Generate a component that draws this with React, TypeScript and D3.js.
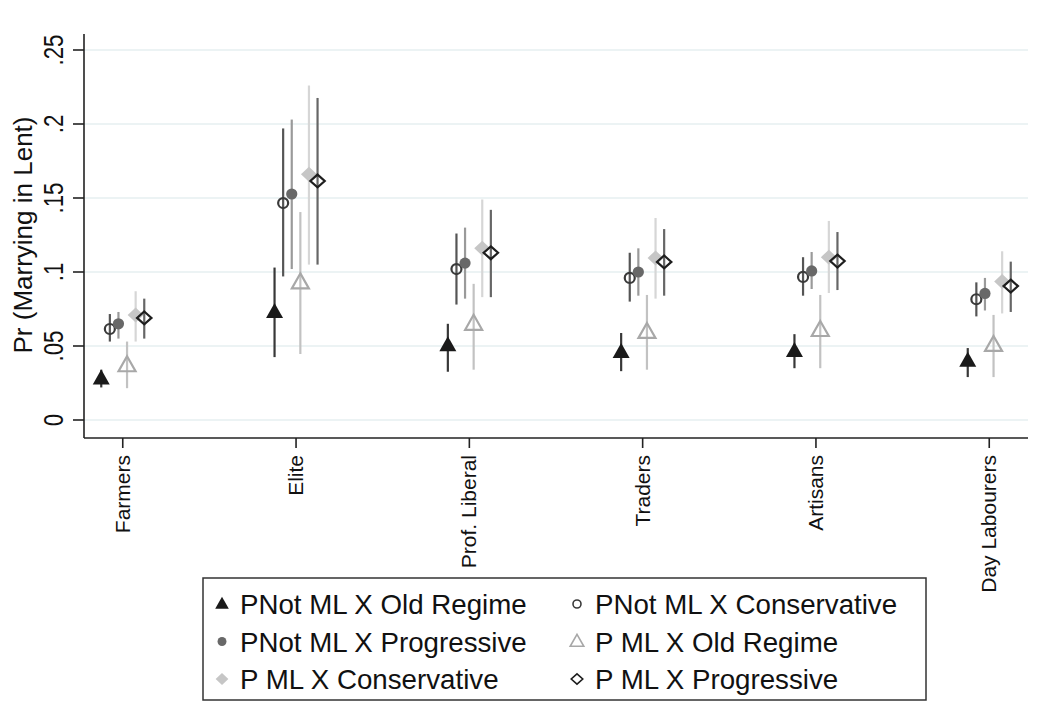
import React from "react";
import * as d3 from "d3";

const categories = ["Farmers", "Elite", "Prof. Liberal", "Traders", "Artisans", "Day Labourers"];
const seriesNames = [
  "PNot ML X Old Regime",
  "PNot ML X Conservative",
  "PNot ML X Progressive",
  "P ML X Old Regime",
  "P ML X Conservative",
  "P ML X Progressive",
];
const yTicks = [0, 0.05, 0.1, 0.15, 0.2, 0.25];
const yTickLabels = ["0", ".05", ".1", ".15", ".2", ".25"];

// point estimates per series (order of categories)
const estOldRegime = [0.028, 0.073, 0.0505, 0.046, 0.0466, 0.040];
const estConservative = [0.0615, 0.1466, 0.102, 0.096, 0.0967, 0.0816];
const estProgressive = [0.065, 0.1527, 0.106, 0.100, 0.1007, 0.0855];
const estMLOldRegime = [0.037, 0.093, 0.065, 0.0595, 0.0608, 0.0507];
const estMLConservative = [0.071, 0.166, 0.116, 0.1095, 0.110, 0.0935];
const estMLProgressive = [0.069, 0.1615, 0.113, 0.1068, 0.1074, 0.0905];

// lower / upper confidence bounds
const loOldRegime = [0.022, 0.0425, 0.0326, 0.033, 0.035, 0.029];
const hiOldRegime = [0.034, 0.103, 0.065, 0.0588, 0.058, 0.0486];
const loConservative = [0.053, 0.097, 0.078, 0.080, 0.084, 0.070];
const hiConservative = [0.0716, 0.197, 0.126, 0.113, 0.110, 0.093];
const loProgressive = [0.055, 0.102, 0.082, 0.084, 0.0885, 0.074];
const hiProgressive = [0.073, 0.203, 0.130, 0.116, 0.1135, 0.096];
const loMLOldRegime = [0.0215, 0.0446, 0.034, 0.034, 0.035, 0.029];
const hiMLOldRegime = [0.053, 0.1405, 0.092, 0.0845, 0.0845, 0.071];
const loMLConservative = [0.053, 0.105, 0.083, 0.082, 0.0858, 0.072];
const hiMLConservative = [0.087, 0.226, 0.149, 0.1365, 0.1345, 0.114];
const loMLProgressive = [0.055, 0.105, 0.083, 0.084, 0.0878, 0.073];
const hiMLProgressive = [0.082, 0.2176, 0.142, 0.129, 0.127, 0.107];

const estimates = [estOldRegime, estConservative, estProgressive, estMLOldRegime, estMLConservative, estMLProgressive];
const lows = [loOldRegime, loConservative, loProgressive, loMLOldRegime, loMLConservative, loMLProgressive];
const highs = [hiOldRegime, hiConservative, hiProgressive, hiMLOldRegime, hiMLConservative, hiMLProgressive];

type Sty = { shape: string; fill: string; stroke: string; ci: string };
const styles: Sty[] = [
  { shape: "tri", fill: "#1a1a1a", stroke: "none", ci: "#383838" },
  { shape: "circle", fill: "none", stroke: "#3a3a3a", ci: "#555555" },
  { shape: "circle", fill: "#686868", stroke: "none", ci: "#9a9a9a" },
  { shape: "tri", fill: "none", stroke: "#a8a8a8", ci: "#c2c2c2" },
  { shape: "diamond", fill: "#c6c6c6", stroke: "none", ci: "#d6d6d6" },
  { shape: "diamond", fill: "none", stroke: "#1e1e1e", ci: "#666666" },
];

const FONT = "'Liberation Sans', Arial, Helvetica, sans-serif";

function Marker({ shape, x, y, fill, stroke, scale, sw }: any) {
  if (shape === "circle") {
    const r = (fill === "none" ? 5 : 5.6) * scale;
    return <circle cx={x} cy={y} r={r} fill={fill} stroke={stroke} strokeWidth={sw} />;
  }
  if (shape === "tri") {
    const w = 8.5 * scale;
    const h = 15 * scale;
    const pts = [[x, y - h * 0.6], [x + w, y + h * 0.4], [x - w, y + h * 0.4]];
    return <polygon points={pts.map((p) => p.join(",")).join(" ")} fill={fill} stroke={stroke} strokeWidth={sw} strokeLinejoin="miter" />;
  }
  const hw = (fill === "none" ? 7.2 : 8) * scale;
  const hh = (fill === "none" ? 6.4 : 7.5) * scale;
  const pts = [[x, y - hh], [x + hw, y], [x, y + hh], [x - hw, y]];
  return <polygon points={pts.map((p) => p.join(",")).join(" ")} fill={fill} stroke={stroke} strokeWidth={sw} />;
}

export default function App() {
  const W = 1043;
  const H = 704;
  const left = 84;
  const right = 1028;
  const axisBottom = 438;
  const axisTop = 34;

  const x = d3.scalePoint<string>().domain(categories).range([left, right]).padding(0.2236);
  const inner = d3.scalePoint<string>().domain(seriesNames).range([-21.5, 21.5]);
  const y = d3.scaleLinear().domain([0, 0.25]).range([420, 50]);

  const legendRows = d3.range(Math.ceil(seriesNames.length / 2));

  return (
    <svg width={W} height={H} style={{ position: "absolute", left: 0, top: 0, background: "#fff" }} fontFamily={FONT}>
      <rect x={0} y={0} width={W} height={H} fill="#ffffff" />
      {/* gridlines */}
      {yTicks.map((t) => (
        <line key={"g" + t} x1={left} x2={right} y1={y(t)} y2={y(t)} stroke="#e6eff1" strokeWidth={1.6} />
      ))}
      {/* series */}
      {seriesNames.map((s, si) => (
        <g key={s}>
          {categories.map((c, ci) => {
            const cx = (x(c) as number) + (inner(s) as number);
            return (
              <line key={"ci" + ci} x1={cx} x2={cx} y1={y(lows[si][ci])} y2={y(highs[si][ci])} stroke={styles[si].ci} strokeWidth={2.2} />
            );
          })}
          {categories.map((c, ci) => {
            const cx = (x(c) as number) + (inner(s) as number);
            return (
              <Marker key={"m" + ci} shape={styles[si].shape} x={cx} y={y(estimates[si][ci])} fill={styles[si].fill} stroke={styles[si].stroke} scale={1} sw={2.2} />
            );
          })}
        </g>
      ))}
      {/* axes */}
      <line x1={left} x2={left} y1={axisTop} y2={axisBottom} stroke="#222" strokeWidth={1.6} />
      <line x1={left} x2={right} y1={axisBottom} y2={axisBottom} stroke="#222" strokeWidth={1.6} />
      {yTicks.map((t, i) => (
        <g key={"yt" + t}>
          <line x1={left - 11} x2={left} y1={y(t)} y2={y(t)} stroke="#222" strokeWidth={1.6} />
          <text transform={`translate(63,${y(t)}) rotate(-90) scale(0.8,1)`} textAnchor="middle" fontSize={28} fill="#111">
            {yTickLabels[i]}
          </text>
        </g>
      ))}
      <text transform={`translate(32,${(y(0) + y(0.25)) / 2}) rotate(-90)`} textAnchor="middle" fontSize={26} fill="#111">
        Pr (Marrying in Lent)
      </text>
      {categories.map((c) => (
        <g key={"xt" + c}>
          <line x1={x(c)} x2={x(c)} y1={axisBottom} y2={axisBottom + 10} stroke="#222" strokeWidth={1.6} />
          <text transform={`translate(${(x(c) as number) + 7},455) rotate(-90)`} textAnchor="end" fontSize={21} fill="#111">
            {c}
          </text>
        </g>
      ))}
      {/* legend */}
      <rect x={203} y={578} width={723} height={122} fill="#fff" stroke="#333" strokeWidth={1.5} />
      {legendRows.map((r) =>
        [0, 1].map((col) => {
          const si = r * 2 + col;
          const ly = 604 + r * 37.5;
          const lx = col === 0 ? 222 : 577;
          const st = styles[si];
          return (
            <g key={"lg" + si}>
              <Marker shape={st.shape} x={lx} y={ly} fill={st.fill} stroke={st.stroke} scale={0.8} sw={1.6} />
              <text x={lx + 18} y={ly + 10} fontSize={27.7} fill="#111">
                {seriesNames[si]}
              </text>
            </g>
          );
        })
      )}
    </svg>
  );
}
